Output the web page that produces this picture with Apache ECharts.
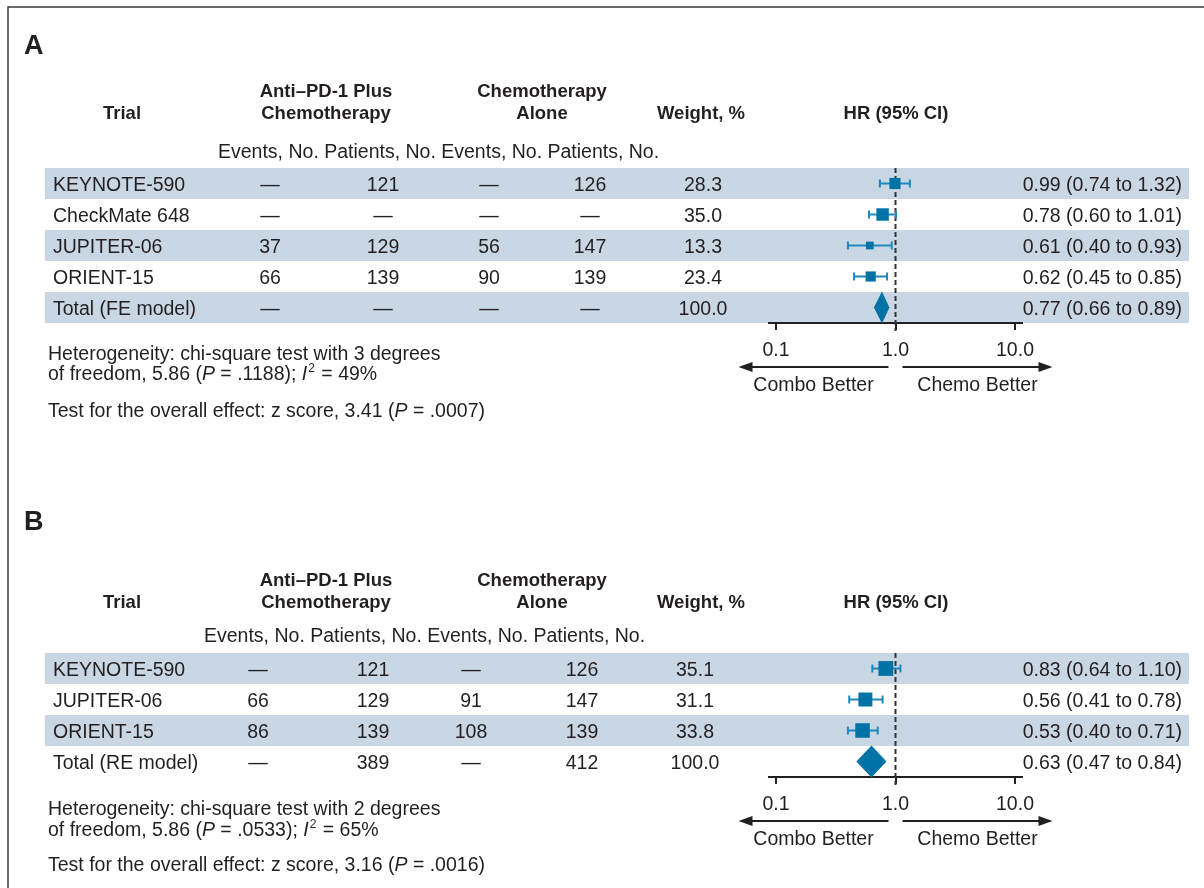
<!DOCTYPE html>
<html>
<head>
<meta charset="utf-8">
<title>Anti-PD-1 forest plots</title>
<script src="https://cdn.jsdelivr.net/npm/echarts@6/dist/echarts.min.js"></script>
<style>
html, body { margin: 0; padding: 0; background: #fff; }
#main { width: 1204px; height: 888px; }
</style>
</head>
<body>
<div id="main"></div>
<script>
// panel A - fixed effect
var trialsA = ['KEYNOTE-590', 'CheckMate 648', 'JUPITER-06', 'ORIENT-15', 'Total (FE model)'];
var comboEventsA = ['—', '—', '37', '66', '—'];
var comboPatientsA = ['121', '—', '129', '139', '—'];
var chemoEventsA = ['—', '—', '56', '90', '—'];
var chemoPatientsA = ['126', '—', '147', '139', '—'];
var weightA = [28.3, 35.0, 13.3, 23.4, 100.0];
var hrA = [0.99, 0.78, 0.61, 0.62, 0.77];
var lowerA = [0.74, 0.60, 0.40, 0.45, 0.66];
var upperA = [1.32, 1.01, 0.93, 0.85, 0.89];
var notesA = [
	'Heterogeneity: chi-square test with 3 degrees',
	'of freedom, 5.86 ({i|P} = .1188); {i|I}{sup|2} = 49%',
	'Test for the overall effect: z score, 3.41 ({i|P} = .0007)'
];

// panel B - random effects
var trialsB = ['KEYNOTE-590', 'JUPITER-06', 'ORIENT-15', 'Total (RE model)'];
var comboEventsB = ['—', '66', '86', '—'];
var comboPatientsB = ['121', '129', '139', '389'];
var chemoEventsB = ['—', '91', '108', '—'];
var chemoPatientsB = ['126', '147', '139', '412'];
var weightB = [35.1, 31.1, 33.8, 100.0];
var hrB = [0.83, 0.56, 0.53, 0.63];
var lowerB = [0.64, 0.41, 0.40, 0.47];
var upperB = [1.10, 0.78, 0.71, 0.84];
var notesB = [
	'Heterogeneity: chi-square test with 2 degrees',
	'of freedom, 5.86 ({i|P} = .0533); {i|I}{sup|2} = 65%',
	'Test for the overall effect: z score, 3.16 ({i|P} = .0016)'
];

// shared labels
var tickLabels = ['0.1', '1.0', '10.0'];
var sideLabels = ['Combo Better', 'Chemo Better'];
var headerCols = [['Trial'], ['Anti–PD-1 Plus', 'Chemotherapy'], ['Chemotherapy', 'Alone'], ['Weight, %'], ['HR (95% CI)']];
var subHeader = 'Events, No. Patients, No. Events, No. Patients, No.';

var ink = '#231f20';
var bandColor = '#c9d6e4';
var blue = '#0073a6';
var blueLine = '#1f88bc';
var font = '"Liberation Sans", Arial, Helvetica, sans-serif';
var fs = 19.5;
var dy = 2; // text baseline nudge

var panels = [
	{ letter: 'A', letterY: 47, trials: trialsA, cEv: comboEventsA, cPt: comboPatientsA, hEv: chemoEventsA, hPt: chemoPatientsA,
	  w: weightA, hr: hrA, lo: lowerA, up: upperA, notes: notesA, noteY: [353, 373, 410],
	  top: 168, headY: 113, subX: 218, subY: 151, cols: [270, 383, 489, 590, 703], box: 2.1 },
	{ letter: 'B', letterY: 523, trials: trialsB, cEv: comboEventsB, cPt: comboPatientsB, hEv: chemoEventsB, hPt: chemoPatientsB,
	  w: weightB, hr: hrB, lo: lowerB, up: upperB, notes: notesB, noteY: [808, 829, 864],
	  top: 653, headY: 602, subX: 204, subY: 635, cols: [258, 373, 471, 582, 695], box: 2.5 }
];
var headerX = [122, 326, 542, 701, 896];
var rowH = 31;

function txt(s, x, y, align, extra) {
	var st = { text: s, x: x, y: y + dy, align: align, verticalAlign: 'middle', fill: ink, fontSize: fs, fontFamily: font };
	if (extra) for (var k in extra) st[k] = extra[k];
	return { type: 'text', style: st };
}

function rowRenderer(p) {
	return function (params, api) {
		var i = api.value(1);
		var c = api.coord([1, i]);
		var h = api.size([0, 1])[1];
		var kids = [];
		if (i % 2 === 0) kids.push({ type: 'rect', shape: { x: 45, y: c[1] - h / 2, width: 1144, height: h }, style: { fill: bandColor } });
		kids.push(txt(p.trials[i], 53, c[1], 'left'));
		var cells = [p.cEv[i], p.cPt[i], p.hEv[i], p.hPt[i], p.w[i].toFixed(1)];
		cells.forEach(function (s, k) { kids.push(txt(s, p.cols[k], c[1], 'center')); });
		var ci = p.hr[i].toFixed(2) + ' (' + p.lo[i].toFixed(2) + ' to ' + p.up[i].toFixed(2) + ')';
		kids.push(txt(ci, 1182, c[1], 'right'));
		return { type: 'group', children: kids };
	};
}

function forestRenderer(p) {
	return function (params, api) {
		var i = api.value(3);
		var pt = api.coord([api.value(0), i]);
		var x0 = api.coord([api.value(1), i])[0];
		var x1 = api.coord([api.value(2), i])[0];
		var y = pt[1];
		if (i === p.trials.length - 1) { // pooled estimate
			var hh = api.size([0, 1])[1] / 2 + 0.5;
			return { type: 'polygon', shape: { points: [[x0, y], [pt[0], y - hh], [x1, y], [pt[0], y + hh]] }, style: { fill: blue } };
		}
		var s = p.box * Math.sqrt(api.value(4));
		var ls = { stroke: blueLine, lineWidth: 2 };
		return { type: 'group', children: [
			{ type: 'line', shape: { x1: x0, y1: y, x2: x1, y2: y }, style: ls },
			{ type: 'line', shape: { x1: x0, y1: y - 4, x2: x0, y2: y + 4 }, style: ls },
			{ type: 'line', shape: { x1: x1, y1: y - 4, x2: x1, y2: y + 4 }, style: ls },
			{ type: 'rect', shape: { x: pt[0] - s / 2, y: y - s / 2, width: s, height: s }, style: { fill: blue } }
		] };
	};
}

function frameRenderer(params, api) {
	var cs = params.coordSys;
	var xr = api.coord([api.value(0), 0])[0];
	var bot = cs.y + cs.height;
	var ay = bot + 44;
	var line = { stroke: ink, lineWidth: 2 };
	return { type: 'group', children: [
		{ type: 'line', shape: { x1: cs.x - 8, y1: bot, x2: cs.x + cs.width + 8, y2: bot }, style: line },
		{ type: 'line', shape: { x1: xr, y1: cs.y, x2: xr, y2: bot + 8 }, style: { stroke: '#333', lineWidth: 2, lineDash: [5, 3] } },
		{ type: 'line', shape: { x1: xr - 7, y1: ay, x2: xr - 145, y2: ay }, style: line },
		{ type: 'polygon', shape: { points: [[xr - 157, ay], [xr - 143, ay - 5], [xr - 143, ay + 5]] }, style: { fill: ink } },
		{ type: 'line', shape: { x1: xr + 7, y1: ay, x2: xr + 145, y2: ay }, style: line },
		{ type: 'polygon', shape: { points: [[xr + 157, ay], [xr + 143, ay - 5], [xr + 143, ay + 5]] }, style: { fill: ink } },
		txt(sideLabels[0], xr - 82, bot + 61, 'center'),
		txt(sideLabels[1], xr + 82, bot + 61, 'center')
	] };
}

var grids = [], xAxes = [], yAxes = [], series = [];
var graphics = [
	{ type: 'rect', shape: { x: 8, y: 7, width: 1400, height: 1000 }, style: { fill: 'none', stroke: '#3a3a3a', lineWidth: 1.5 } }
];

panels.forEach(function (p, g) {
	var n = p.trials.length;
	grids.push({ left: 776, width: 239, top: p.top, height: n * rowH });
	xAxes.push({
		type: 'log', logBase: 10, min: 0.1, max: 10, gridIndex: g,
		axisLine: { show: false },
		axisTick: { show: true, length: 7, lineStyle: { color: ink, width: 2 } },
		axisLabel: { margin: 18, color: ink, fontSize: fs, fontFamily: font, formatter: function (v, idx) { return tickLabels[idx]; } },
		splitLine: { show: false }
	});
	yAxes.push({ type: 'category', gridIndex: g, inverse: true, data: p.trials, show: false });

	var rowData = [], forestData = [];
	for (var i = 0; i < n; i++) {
		rowData.push([1, i]);
		forestData.push([p.hr[i], p.lo[i], p.up[i], i, p.w[i]]);
	}
	series.push({ type: 'custom', xAxisIndex: g, yAxisIndex: g, z: 1, clip: false, silent: true,
		encode: { x: 0, y: 1 }, data: rowData, renderItem: rowRenderer(p) });
	series.push({ type: 'custom', xAxisIndex: g, yAxisIndex: g, z: 3, clip: false, silent: true,
		encode: { x: 0, y: 1 }, data: [[1, 0]], renderItem: frameRenderer });
	series.push({ type: 'custom', xAxisIndex: g, yAxisIndex: g, z: 4, clip: false, silent: true,
		encode: { x: [0, 1, 2], y: 3 }, data: forestData, renderItem: forestRenderer(p) });

	// panel letter, headers, notes
	graphics.push({ type: 'text', left: 24, top: p.letterY - 14, style: { text: p.letter, fill: ink, font: 'bold 27px ' + font } });
	headerCols.forEach(function (lines, k) {
		lines.forEach(function (s, j) {
			var y = p.headY - (lines.length - 1 - j) * 22;
			graphics.push({ type: 'text', x: headerX[k], y: y + 1,
				style: { text: s, fill: ink, fontSize: 18.5, fontWeight: 'bold', fontFamily: font, align: 'center', verticalAlign: 'middle' } });
		});
	});
	graphics.push({ type: 'text', x: p.subX, y: p.subY + dy,
		style: { text: subHeader, fill: ink, fontSize: fs, fontFamily: font, align: 'left', verticalAlign: 'middle' } });
	p.notes.forEach(function (s, k) {
		graphics.push({ type: 'text', x: 48, y: p.noteY[k] + dy,
			style: { text: s, fill: ink, fontSize: fs, fontFamily: font, align: 'left', verticalAlign: 'middle',
				rich: {
					i: { fontStyle: 'italic', fontSize: fs, fontFamily: font, fill: ink },
					sup: { fontSize: 12, fontFamily: font, fill: ink, padding: [0, 1, 12, 1] }
				} } });
	});
});

var chart = echarts.init(document.getElementById('main'));
chart.setOption({
	animation: false,
	backgroundColor: '#fff',
	grid: grids,
	xAxis: xAxes,
	yAxis: yAxes,
	series: series,
	graphic: graphics
});
</script>
</body>
</html>
